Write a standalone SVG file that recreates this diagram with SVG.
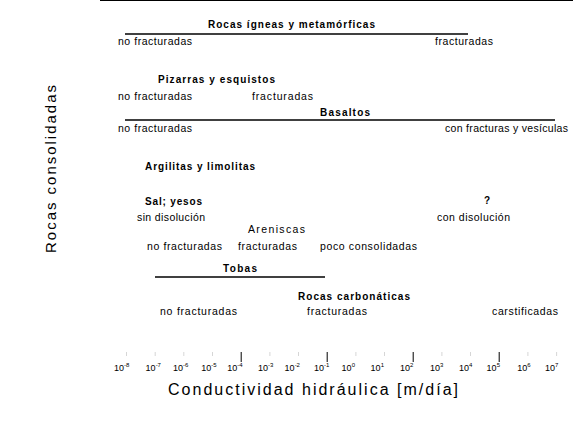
<svg xmlns="http://www.w3.org/2000/svg" width="573" height="423" viewBox="0 0 573 423">
<style>
text{font-family:"Liberation Sans",Arial,sans-serif;fill:#000}
.cat{font-size:10px;font-weight:bold}
.sub{font-size:10.5px}
.tk{font-size:9px;text-anchor:middle}
.sup{font-size:6px}
.bar{stroke:#000;stroke-width:1.5;fill:none}
.minor{stroke:#bbb;stroke-width:0.6}
.major{stroke:#000;stroke-width:1}
</style>
<rect width="573" height="423" fill="#fff"/>
<line x1="100" y1="0.5" x2="573" y2="0.5" stroke="#000" stroke-width="1"/>

<g id="igneas">
<text class="cat" x="208" y="28" textLength="167">Rocas ígneas y metamórficas</text>
<line class="bar" x1="125" y1="34" x2="468" y2="34"/>
<text class="sub" x="118" y="45" textLength="74">no fracturadas</text>
<text class="sub" x="435" y="45" textLength="58">fracturadas</text>
</g>

<g id="pizarras">
<text class="cat" x="158" y="83" textLength="117">Pizarras y esquistos</text>
<text class="sub" x="118" y="100" textLength="74">no fracturadas</text>
<text class="sub" x="252" y="100" textLength="61">fracturadas</text>
</g>

<g id="basaltos">
<text class="cat" x="320" y="116" textLength="50">Basaltos</text>
<line class="bar" x1="125" y1="120" x2="555" y2="120"/>
<text class="sub" x="118" y="132" textLength="74">no fracturadas</text>
<text class="sub" x="445" y="132" textLength="123">con fracturas y vesículas</text>
</g>

<g id="argilitas">
<text class="cat" x="145" y="170" textLength="110">Argilitas y limolitas</text>
</g>

<g id="sal">
<text class="cat" x="145" y="205" textLength="57">Sal; yesos</text>
<text class="cat" x="484" y="204">?</text>
<text class="sub" x="137" y="221" textLength="68">sin disolución</text>
<text class="sub" x="437" y="221" textLength="73">con disolución</text>
</g>

<g id="areniscas">
<text class="sub" x="248" y="233" textLength="57">Areniscas</text>
<text class="sub" x="147" y="250" textLength="75">no fracturadas</text>
<text class="sub" x="238" y="250" textLength="59">fracturadas</text>
<text class="sub" x="320" y="250" textLength="97">poco consolidadas</text>
</g>

<g id="tobas">
<text class="cat" x="223" y="272" textLength="34">Tobas</text>
<line class="bar" x1="155" y1="277" x2="325" y2="277"/>
</g>

<g id="carbonaticas">
<text class="cat" x="298" y="300" textLength="112">Rocas carbonáticas</text>
<text class="sub" x="160" y="315" textLength="77">no fracturadas</text>
<text class="sub" x="307" y="315" textLength="60">fracturadas</text>
<text class="sub" x="492" y="315" textLength="66">carstificadas</text>
</g>

<g id="connectors"></g>

<g id="eje-x">
<g class="minor">
<line x1="126.5" y1="352" x2="126.5" y2="356"/>
<line x1="155.2" y1="352" x2="155.2" y2="356"/>
<line x1="183.8" y1="352" x2="183.8" y2="356"/>
<line x1="212.5" y1="352" x2="212.5" y2="356"/>
<line x1="269.9" y1="352" x2="269.9" y2="356"/>
<line x1="298.5" y1="352" x2="298.5" y2="356"/>
<line x1="355.9" y1="352" x2="355.9" y2="356"/>
<line x1="384.5" y1="352" x2="384.5" y2="356"/>
<line x1="441.9" y1="352" x2="441.9" y2="356"/>
<line x1="470.5" y1="352" x2="470.5" y2="356"/>
<line x1="527.9" y1="352" x2="527.9" y2="356"/>
<line x1="556.6" y1="352" x2="556.6" y2="356"/>
</g>
<g class="major">
<line x1="241.2" y1="352" x2="241.2" y2="362"/>
<line x1="327.2" y1="352" x2="327.2" y2="362"/>
<line x1="413.2" y1="352" x2="413.2" y2="362"/>
<line x1="499.2" y1="352" x2="499.2" y2="362"/>
</g>
<text class="tk" x="121.7" y="371">10<tspan class="sup" dy="-4">-8</tspan></text>
<text class="tk" x="153.3" y="371">10<tspan class="sup" dy="-4">-7</tspan></text>
<text class="tk" x="180.7" y="371">10<tspan class="sup" dy="-4">-6</tspan></text>
<text class="tk" x="209" y="371">10<tspan class="sup" dy="-4">-5</tspan></text>
<text class="tk" x="235" y="371">10<tspan class="sup" dy="-4">-4</tspan></text>
<text class="tk" x="265.7" y="371">10<tspan class="sup" dy="-4">-3</tspan></text>
<text class="tk" x="292.3" y="371">10<tspan class="sup" dy="-4">-2</tspan></text>
<text class="tk" x="321.7" y="371">10<tspan class="sup" dy="-4">-1</tspan></text>
<text class="tk" x="348.3" y="371">10<tspan class="sup" dy="-4">0</tspan></text>
<text class="tk" x="377.3" y="371">10<tspan class="sup" dy="-4">1</tspan></text>
<text class="tk" x="406.7" y="371">10<tspan class="sup" dy="-4">2</tspan></text>
<text class="tk" x="436.7" y="371">10<tspan class="sup" dy="-4">3</tspan></text>
<text class="tk" x="465.7" y="371">10<tspan class="sup" dy="-4">4</tspan></text>
<text class="tk" x="493.3" y="371">10<tspan class="sup" dy="-4">5</tspan></text>
<text class="tk" x="524" y="371">10<tspan class="sup" dy="-4">6</tspan></text>
<text class="tk" x="551.7" y="371">10<tspan class="sup" dy="-4">7</tspan></text>
<text x="168" y="395" font-size="16" textLength="290">Conductividad hidráulica [m/día]</text>
</g>

<g id="eje-y">
<text x="0" y="0" font-size="15" text-anchor="middle" textLength="168" transform="translate(55.5,169) rotate(-90)">Rocas consolidadas</text>
</g>
</svg>
